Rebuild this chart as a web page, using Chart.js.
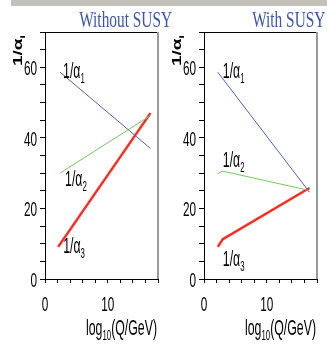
<!DOCTYPE html>
<html>
<head>
<meta charset="utf-8">
<script src="https://cdn.jsdelivr.net/npm/chart.js@4"></script>
<style>
  body { margin: 0; background: #fff; }
  #wrap { position: relative; width: 327px; height: 345px; overflow: hidden; }
  #bar { position: absolute; left: 11px; top: 0; width: 316px; height: 6px; background: #c2c2ba; }
  .ttl { position: absolute; top: 7px; font: 24px/24px "Liberation Serif", serif; color: #3b55b0;
         transform: scaleX(0.64); transform-origin: right center; white-space: nowrap; z-index: 2; }
  canvas { position: absolute; top: 0; }
</style>
</head>
<body>
<div id="wrap">
  <div id="bar"></div>
  <div class="ttl" style="right:155px">Without SUSY</div>
  <div class="ttl" style="right:2px">With SUSY</div>
  <canvas id="left" width="163" height="345" style="left:0"></canvas>
  <canvas id="right" width="164" height="345" style="left:163px"></canvas>
</div>
<script>
// log10(Q/GeV) and 1/alpha_i, without SUSY
const qA1 = [2.4, 16.8];
const invA1 = [58.6, 37.0];
const qA2 = [2.4, 16.7];
const invA2 = [30.0, 46.2];
const qA3 = [2.1, 16.8];
const invA3 = [9.1, 47.0];

// with SUSY
const qB1 = [2.2, 16.8];
const invB1 = [58.6, 24.6];
const qB2 = [2.2, 2.9, 16.5];
const invB2 = [29.8, 30.6, 25.2];
const qB3 = [2.2, 3.0, 16.8];
const invB3 = [9.1, 11.3, 25.8];

const couplingIdx = ['1', '2', '3'];
const xTickLabels = [0, 10];
const yTickLabels = [0, 20, 40, 60];

const colors = ['#4a63bd', '#72c95a', '#ff2a1e'];
const widths = [1, 1, 2.5];
const SQ = 0.56; // the picture is squeezed sideways

function pts(xs, ys) {
  return xs.map((x, i) => ({ x: x, y: ys[i] }));
}

// draw text pieces side by side, squeezed horizontally
function rich(ctx, parts, x, y, align, sx, sy, rot) {
  ctx.save();
  ctx.translate(x, y);
  if (rot) ctx.rotate(rot);
  ctx.scale(sx, sy);
  let w = 0;
  parts.forEach(p => { ctx.font = p.f; w += ctx.measureText(p.t).width; });
  let cx = align === 'right' ? -w : align === 'center' ? -w / 2 : 0;
  ctx.textAlign = 'left';
  ctx.textBaseline = 'alphabetic';
  ctx.fillStyle = '#000';
  parts.forEach(p => {
    ctx.font = p.f;
    ctx.fillText(p.t, cx, p.dy || 0);
    cx += ctx.measureText(p.t).width;
  });
  ctx.restore();
}

const MAIN = '22px "Liberation Sans", Arial, sans-serif';
const SUB = '14px "Liberation Sans", Arial, sans-serif';

const decor = {
  id: 'decor',
  afterDraw(chart, args, opts) {
    const ctx = chart.ctx;
    const a = chart.chartArea;
    const xs = chart.scales.x, ys = chart.scales.y;

    // frame: top black, right grey
    ctx.save();
    ctx.strokeStyle = '#000';
    ctx.lineWidth = 1;
    ctx.beginPath();
    ctx.moveTo(a.left, a.top + 0.5);
    ctx.lineTo(a.right, a.top + 0.5);
    ctx.stroke();
    ctx.strokeStyle = '#9a9a9a';
    ctx.lineWidth = 2;
    ctx.beginPath();
    ctx.moveTo(a.right, a.top);
    ctx.lineTo(a.right, a.bottom);
    ctx.stroke();
    ctx.restore();

    const tickFont = '21px "Liberation Sans", Arial, sans-serif';
    yTickLabels.forEach(v => {
      rich(ctx, [{ t: String(v), f: tickFont }], a.left - 8, ys.getPixelForValue(v) + 8, 'right', SQ, 1);
    });
    xTickLabels.forEach(v => {
      rich(ctx, [{ t: String(v), f: tickFont }], xs.getPixelForValue(v), a.bottom + 32, 'center', SQ, 1);
    });

    // x title
    rich(ctx, [
      { t: 'log', f: MAIN },
      { t: '10', f: SUB, dy: 5 },
      { t: '(Q/GeV)', f: MAIN }
    ], a.right - 1, a.bottom + 56, 'right', SQ, 1);

    // y title, rotated
    rich(ctx, [
      { t: '1/α', f: 'bold 19px "Liberation Sans", Arial, sans-serif' },
      { t: 'i', f: 'bold 12px "Liberation Sans", Arial, sans-serif', dy: 4 }
    ], a.left - 23, a.top + 34, 'left', 1, 0.65, -Math.PI / 2);

    // curve labels next to the start of each line
    chart.data.datasets.forEach((ds, i) => {
      const p = chart.getDatasetMeta(i).data[0];
      const off = opts.offsets[i];
      rich(ctx, [
        { t: '1/α', f: MAIN },
        { t: couplingIdx[i], f: SUB, dy: 5 }
      ], p.x + off[0], p.y + off[1], 'left', SQ, 1);
    });
  }
};

function makeChart(id, series, yAxisW, padRight, offsets) {
  new Chart(document.getElementById(id), {
    type: 'line',
    data: {
      datasets: series.map((s, i) => ({
        label: '1/α' + couplingIdx[i],
        data: pts(s[0], s[1]),
        borderColor: colors[i],
        borderWidth: widths[i],
        pointRadius: 0,
        fill: false,
        tension: 0
      }))
    },
    options: {
      responsive: false,
      animation: false,
      layout: { padding: { top: 32, right: padRight, left: 0, bottom: 0 } },
      plugins: {
        legend: { display: false },
        tooltip: { enabled: false },
        decor: { offsets: offsets }
      },
      scales: {
        x: {
          type: 'linear', min: 0, max: 18,
          ticks: { display: false, stepSize: 2 },
          grid: { drawOnChartArea: false, tickLength: 4, color: '#000' },
          border: { color: '#000', width: 1 },
          afterFit: s => { s.height = 66; }
        },
        y: {
          min: 0, max: 70,
          ticks: { display: false, stepSize: 5 },
          grid: { drawOnChartArea: false, tickLength: 5, color: '#000' },
          border: { color: '#000', width: 1 },
          afterFit: s => { s.width = yAxisW; }
        }
      }
    },
    plugins: [decor]
  });
}

makeChart('left', [[qA1, invA1], [qA2, invA2], [qA3, invA3]], 45, 5,
  [[3, 6], [5, 13], [5, 6]]);
makeChart('right', [[qB1, invB1], [qB2, invB2], [qB3, invB3]], 41, 10,
  [[5, 6], [5, -7], [5, 19]]);
</script>
</body>
</html>
